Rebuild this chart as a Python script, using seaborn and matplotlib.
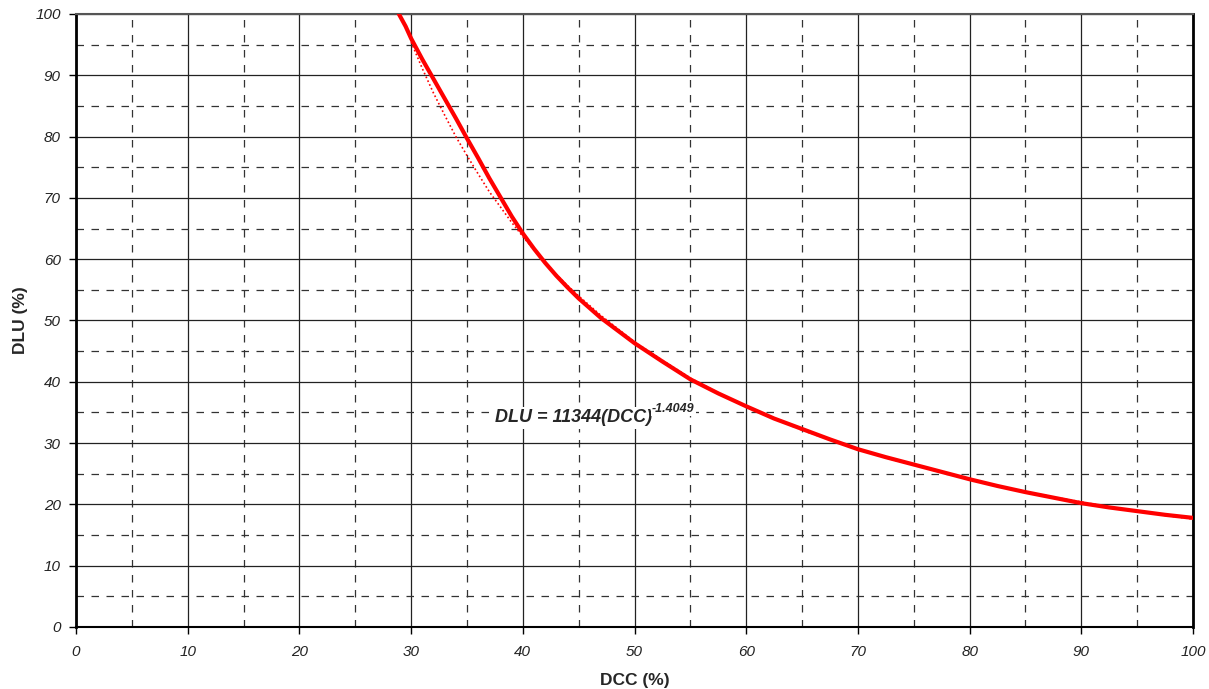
import matplotlib
matplotlib.use("Agg")
import matplotlib.pyplot as plt
import numpy as np
import pandas as pd
import seaborn as sns

dcc = [28.9, 29.5, 30, 31, 32, 33, 34, 35, 36, 37, 38, 39, 40, 41, 42, 43, 44, 45, 47,
       50, 52.5, 55, 57.5, 60, 62.5, 65, 67.5, 70, 72.5, 75, 77.5, 80, 82.5, 85,
       87.5, 90, 92.5, 95, 97.5, 100]
dlu = [100, 98.0, 96.0, 92.6, 89.4, 86.2, 83.0, 79.7, 76.5, 73.2, 70.1, 67.0, 64.2,
       61.7, 59.4, 57.3, 55.4, 53.6, 50.4, 46.3, 43.3, 40.4, 38.1, 36.0, 34.0, 32.3,
       30.6, 29.0, 27.7, 26.5, 25.3, 24.1, 23.0, 22.0, 21.1, 20.2, 19.5, 18.9, 18.3, 17.8]

# power trendline points (dotted)
fit_dcc = [30, 31, 32, 33, 34, 35, 36, 37, 38, 39, 40, 41, 42, 43, 44, 45, 47, 50,
           52.5, 55, 57.5, 60, 62.5, 65, 67.5, 70, 72.5, 75, 77.5, 80, 82.5, 85,
           87.5, 90, 92.5, 95, 97.5, 100]
fit_dlu = [95.4, 91.1, 87.1, 83.5, 80.0, 76.9, 73.9, 71.0, 68.5, 66.0, 63.7, 61.5,
           59.5, 57.5, 55.7, 54.0, 50.8, 46.5, 43.5, 40.6, 38.2, 36.0, 34.0, 32.1,
           30.5, 29.0, 27.6, 26.4, 25.2, 24.1, 23.0, 22.1, 21.2, 20.4, 19.6, 18.9,
           18.2, 17.6]

equation = "DLU = 11344(DCC)"
exponent = "-1.4049"

sns.set_style("white")
plt.rcParams['font.family'] = ['Liberation Sans', 'DejaVu Sans']

fig = plt.figure(figsize=(12.09, 6.89), dpi=100)
ax = fig.add_axes([0.0629, 0.09, 0.9239, 0.8897])

df = pd.DataFrame({'DCC': dcc, 'DLU': dlu})
df_fit = pd.DataFrame({'DCC': fit_dcc, 'DLU': fit_dlu})

sns.lineplot(data=df_fit, x='DCC', y='DLU', ax=ax, color='red', lw=1.2,
             linestyle=(0, (1, 1.5)), zorder=3)
sns.lineplot(data=df, x='DCC', y='DLU', ax=ax, color='red', lw=3, zorder=4)

ax.set_xlim(0, 100)
ax.set_ylim(0, 100)
ax.set_xticks(np.arange(0, 101, 10))
ax.set_yticks(np.arange(0, 101, 10))
ax.set_xticks(np.arange(5, 100, 10), minor=True)
ax.set_yticks(np.arange(5, 100, 10), minor=True)
ax.grid(True, which='major', color='#222222', lw=0.9, ls='-')
ax.grid(True, which='minor', color='#333333', lw=0.9, ls=(0, (6, 6)))
ax.set_axisbelow(True)

ax.tick_params(axis='both', which='major', direction='out', length=5, width=1,
               labelsize=11, colors='black', left=True, bottom=True)
ax.tick_params(axis='y', which='major', pad=6)
ax.tick_params(axis='x', which='major', pad=8)
ax.tick_params(axis='both', which='minor', length=0)
for lbl in ax.get_xticklabels() + ax.get_yticklabels():
    lbl.set_fontstyle('italic')
    lbl.set_color('#222222')

for side in ['left', 'right', 'bottom', 'top']:
    ax.spines[side].set_visible(True)
    ax.spines[side].set_color('black')
ax.spines['left'].set_linewidth(2)
ax.spines['right'].set_linewidth(2)
ax.spines['bottom'].set_linewidth(1.5)
ax.spines['top'].set_linewidth(1.5)
ax.spines['top'].set_color('#555555')

ax.set_xlabel('DCC (%)', fontsize=12.5, fontweight='bold', labelpad=10)
ax.set_ylabel('DLU (%)', fontsize=12.5, fontweight='bold', labelpad=5)

t = ax.text(37.5, 33.4, equation, fontsize=13, fontweight='bold', fontstyle='italic',
            ha='left', va='baseline', zorder=5,
            bbox=dict(facecolor='white', edgecolor='none', pad=2))
ax.annotate(exponent, xy=(1, 1), xycoords=t, xytext=(0, -4), textcoords='offset points',
            fontsize=9, fontweight='bold', fontstyle='italic', ha='left', va='bottom',
            zorder=5, bbox=dict(facecolor='white', edgecolor='none', pad=1))

fig.savefig('out.png', dpi=100, facecolor='white')
